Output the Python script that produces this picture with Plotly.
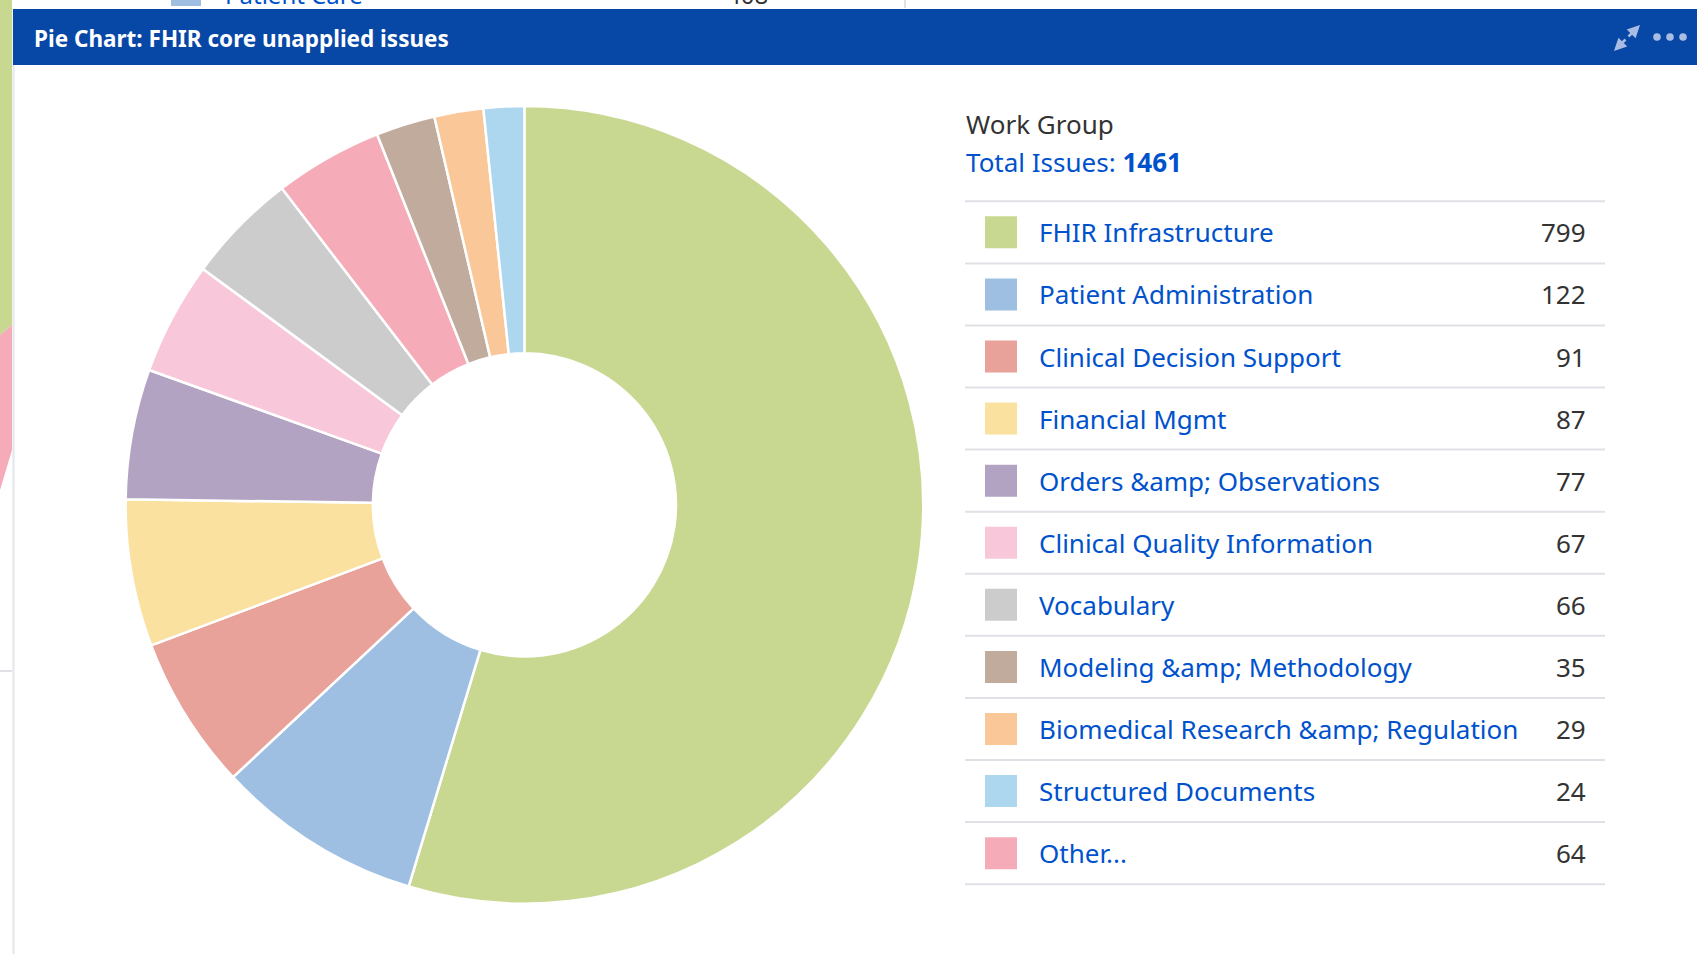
import plotly.graph_objects as go

# ---------------- data ----------------
categories = [
    "FHIR Infrastructure",
    "Patient Administration",
    "Clinical Decision Support",
    "Financial Mgmt",
    "Orders &amp; Observations",
    "Clinical Quality Information",
    "Vocabulary",
    "Modeling &amp; Methodology",
    "Biomedical Research &amp; Regulation",
    "Structured Documents",
    "Other...",
]
values = [799, 122, 91, 87, 77, 67, 66, 35, 29, 24, 64]
colors = [
    "#C8D891", "#9EBFE2", "#E8A29A", "#FAE1A0", "#B2A3C3", "#F9C7DA",
    "#CCCCCC", "#C1AB9C", "#FAC799", "#ADD7EF", "#F6ACB8",
]
# order in which slices are drawn clockwise from 12 o'clock
pie_order = [
    "FHIR Infrastructure",
    "Patient Administration",
    "Clinical Decision Support",
    "Financial Mgmt",
    "Orders &amp; Observations",
    "Clinical Quality Information",
    "Vocabulary",
    "Other...",
    "Modeling &amp; Methodology",
    "Biomedical Research &amp; Regulation",
    "Structured Documents",
]
chart_title = "Pie Chart: FHIR core unapplied issues"
group_label = "Work Group"

# ---------------- geometry helpers ----------------
W, H = 1697, 954


def px(x):
    return x / W


def py(y):
    return 1 - y / H


FONT = "Noto Sans, Open Sans, sans-serif"
LINK = "#0052CC"
DARK = "#333333"
SEP = "#DFE1E6"

idx = {c: i for i, c in enumerate(categories)}
pie_labels = pie_order
pie_values = [values[idx[c]] for c in pie_order]
pie_colors = [colors[idx[c]] for c in pie_order]

cx, cy, r = 524.4, 504.9, 398.8

fig = go.Figure()
fig.add_trace(go.Pie(
    labels=pie_labels,
    values=pie_values,
    marker=dict(colors=pie_colors, line=dict(color="white", width=2.5)),
    hole=0.38,
    sort=False,
    direction="clockwise",
    rotation=0,
    textinfo="none",
    hoverinfo="label+value",
    showlegend=False,
    domain=dict(x=[px(cx - r), px(cx + r)], y=[py(cy + r), py(cy - r)]),
))

shapes = []
annotations = []

# ---- background bits of neighbouring gadgets ----
shapes.append(dict(type="path", xref="paper", yref="paper",
                   path=f"M 0 1 L {px(12)} 1 L {px(12)} {py(325)} L 0 {py(335)} Z",
                   fillcolor="#C8D891", line=dict(width=0), layer="below"))
shapes.append(dict(type="path", xref="paper", yref="paper",
                   path=f"M 0 {py(335)} L {px(12)} {py(325)} L {px(12)} {py(450)} L 0 {py(490)} Z",
                   fillcolor="#F6ACB8", line=dict(width=0), layer="below"))
shapes.append(dict(type="line", xref="paper", yref="paper",
                   x0=0, x1=px(12), y0=py(671), y1=py(671),
                   line=dict(color=SEP, width=2)))
shapes.append(dict(type="rect", xref="paper", yref="paper",
                   x0=px(171), x1=px(201), y0=py(6), y1=1,
                   fillcolor="#9EBFE2", line=dict(width=0)))
shapes.append(dict(type="line", xref="paper", yref="paper",
                   x0=px(905), x1=px(905), y0=py(8), y1=1,
                   line=dict(color=SEP, width=2)))
annotations.append(dict(text="Patient Care", xref="paper", yref="paper",
                        x=px(223), y=py(-5), xanchor="left", yanchor="middle",
                        showarrow=False, font=dict(family=FONT, size=24, color=LINK)))
annotations.append(dict(text="408", xref="paper", yref="paper",
                        x=px(770), y=py(-5), xanchor="right", yanchor="middle",
                        showarrow=False, font=dict(family=FONT, size=24, color=DARK)))

# ---- panel border ----
shapes.append(dict(type="line", xref="paper", yref="paper",
                   x0=px(13.5), x1=px(13.5), y0=0, y1=py(9),
                   line=dict(color="#E4E6EA", width=2)))

# ---- header bar ----
shapes.append(dict(type="rect", xref="paper", yref="paper",
                   x0=px(13), x1=1, y0=py(65), y1=py(9),
                   fillcolor="#0747A6", line=dict(width=0)))
annotations.append(dict(text=f"<b>{chart_title}</b>", xref="paper", yref="paper",
                        x=px(32), y=py(38), xanchor="left", yanchor="middle",
                        showarrow=False,
                        font=dict(family="Noto Sans, sans-serif", size=22.5, color="white")))
# expand icon (two arrows) and dots menu
ICON = "#A9BCE3"
for (tx, ty, hx, hy) in [(1627, 38, 1640, 25), (1627, 38, 1614, 51)]:
    annotations.append(dict(x=px(hx), y=py(hy), ax=tx - hx, ay=ty - hy,
                            xref="paper", yref="paper", axref="pixel", ayref="pixel",
                            text="", showarrow=True, arrowhead=2, arrowsize=1,
                            arrowwidth=2.5, arrowcolor=ICON))
for dx in (1657, 1670, 1683):
    shapes.append(dict(type="circle", xref="paper", yref="paper",
                       x0=px(dx - 3.8), x1=px(dx + 3.8), y0=py(37 + 3.8), y1=py(37 - 3.8),
                       fillcolor=ICON, line=dict(width=0)))

# ---- legend table ----
lx0, lx1 = 965, 1605
annotations.append(dict(text=group_label, xref="paper", yref="paper",
                        x=px(lx0 - 1), y=py(123.5), xanchor="left", yanchor="middle",
                        showarrow=False, font=dict(family=FONT, size=26, color=DARK)))
total = sum(values)
annotations.append(dict(text=f"Total Issues: <b>{total}</b>", xref="paper", yref="paper",
                        x=px(lx0 - 1), y=py(162), xanchor="left", yanchor="middle",
                        showarrow=False, font=dict(family=FONT, size=26, color=LINK)))

top = 201.3
step = 62.08
for i in range(len(categories) + 1):
    yy = top + i * step
    shapes.append(dict(type="line", xref="paper", yref="paper",
                       x0=px(lx0), x1=px(lx1), y0=py(yy), y1=py(yy),
                       line=dict(color=SEP, width=2)))
for i, (c, v, col) in enumerate(zip(categories, values, colors)):
    yc = top + (i + 0.5) * step
    shapes.append(dict(type="rect", xref="paper", yref="paper",
                       x0=px(985), x1=px(1017), y0=py(yc + 16), y1=py(yc - 16),
                       fillcolor=col, line=dict(width=0)))
    annotations.append(dict(text=c.replace("&", "&amp;"), xref="paper", yref="paper",
                            x=px(1037), y=py(yc), xanchor="left", yanchor="middle",
                            showarrow=False, font=dict(family=FONT, size=26, color=LINK)))
    annotations.append(dict(text=str(v), xref="paper", yref="paper",
                            x=px(1588), y=py(yc), xanchor="right", yanchor="middle",
                            showarrow=False, font=dict(family=FONT, size=26, color=DARK)))

fig.update_layout(
    width=W, height=H, autosize=False,
    margin=dict(l=0, r=0, t=0, b=0),
    paper_bgcolor="white", plot_bgcolor="white",
    shapes=shapes, annotations=annotations,
    showlegend=False,
)

fig.write_html(
    "out.html",
    config={"displayModeBar": False},
    post_script="document.body.style.margin='0';document.body.style.overflow='hidden';",
)
